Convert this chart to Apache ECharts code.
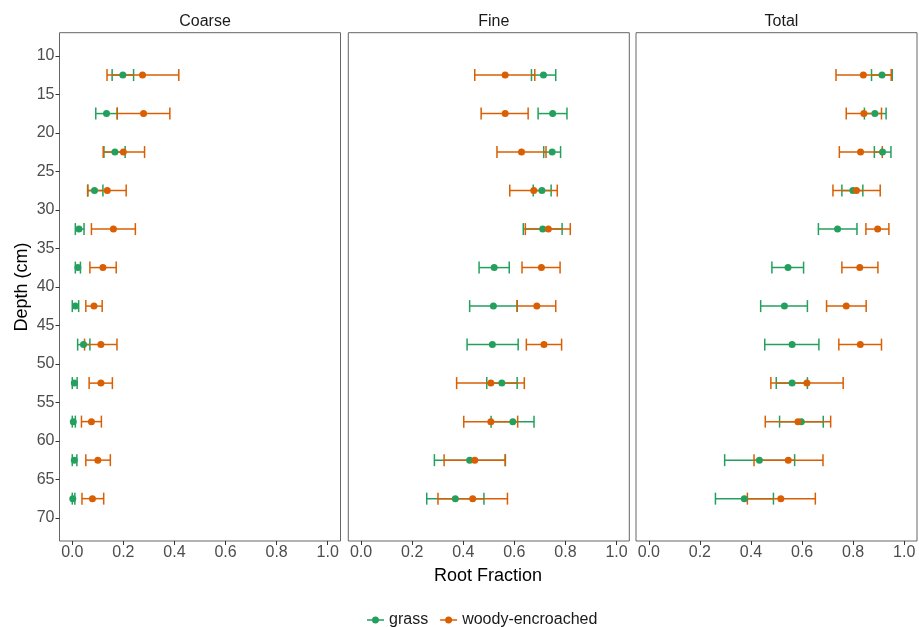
<!DOCTYPE html>
<html>
<head>
<meta charset="utf-8">
<script src="https://cdn.jsdelivr.net/npm/echarts@6/dist/echarts.min.js"></script>
<style>html,body{margin:0;padding:0;background:#fff}#c{width:919px;height:627px}</style>
</head>
<body>
<div id="c"></div>
<script>
const panels = ['Coarse', 'Fine', 'Total'];
const groups = ['grass', 'woody-encroached'];
const depths = [12.5, 17.5, 22.5, 27.5, 32.5, 37.5, 42.5, 47.5, 52.5, 57.5, 62.5, 67.5];
const xTicks = [0, 0.2, 0.4, 0.6, 0.8, 1.0];
const yTicks = [10, 15, 20, 25, 30, 35, 40, 45, 50, 55, 60, 65, 70];

// Coarse
const coarseGrass   = [0.198, 0.134, 0.167, 0.087, 0.026, 0.022, 0.012, 0.044, 0.008, 0.004, 0.008, 0.002];
const coarseGrassLo = [0.156, 0.092, 0.124, 0.060, 0.012, 0.012, 0.000, 0.021, 0.000, 0.000, 0.000, 0.000];
const coarseGrassHi = [0.240, 0.176, 0.207, 0.120, 0.046, 0.032, 0.025, 0.069, 0.019, 0.012, 0.018, 0.010];
const coarseWoody   = [0.275, 0.279, 0.200, 0.137, 0.161, 0.120, 0.085, 0.112, 0.112, 0.075, 0.100, 0.079];
const coarseWoodyLo = [0.136, 0.176, 0.121, 0.061, 0.075, 0.069, 0.053, 0.048, 0.066, 0.036, 0.053, 0.038];
const coarseWoodyHi = [0.417, 0.382, 0.283, 0.211, 0.247, 0.172, 0.117, 0.175, 0.157, 0.114, 0.149, 0.123];
// Fine
const fineGrass   = [0.714, 0.750, 0.748, 0.708, 0.711, 0.521, 0.518, 0.514, 0.551, 0.594, 0.425, 0.369];
const fineGrassLo = [0.667, 0.693, 0.715, 0.674, 0.635, 0.462, 0.425, 0.415, 0.492, 0.509, 0.287, 0.257];
const fineGrassHi = [0.762, 0.806, 0.781, 0.744, 0.787, 0.580, 0.611, 0.615, 0.611, 0.677, 0.565, 0.481];
const fineWoody   = [0.564, 0.564, 0.628, 0.676, 0.733, 0.706, 0.688, 0.716, 0.508, 0.508, 0.445, 0.437];
const fineWoodyLo = [0.445, 0.470, 0.532, 0.582, 0.643, 0.630, 0.611, 0.647, 0.374, 0.402, 0.325, 0.301];
const fineWoodyHi = [0.680, 0.654, 0.724, 0.768, 0.819, 0.779, 0.762, 0.785, 0.639, 0.613, 0.564, 0.573];
// Total
const totalGrass   = [0.913, 0.885, 0.915, 0.799, 0.739, 0.545, 0.531, 0.561, 0.561, 0.597, 0.433, 0.374];
const totalGrassLo = [0.872, 0.844, 0.883, 0.756, 0.664, 0.482, 0.438, 0.454, 0.499, 0.512, 0.297, 0.261];
const totalGrassHi = [0.953, 0.929, 0.948, 0.838, 0.815, 0.606, 0.621, 0.666, 0.621, 0.683, 0.571, 0.488];
const totalWoody   = [0.840, 0.842, 0.829, 0.813, 0.896, 0.826, 0.773, 0.828, 0.619, 0.584, 0.546, 0.517];
const totalWoodyLo = [0.733, 0.773, 0.746, 0.721, 0.850, 0.756, 0.696, 0.744, 0.478, 0.456, 0.412, 0.386];
const totalWoodyHi = [0.949, 0.911, 0.914, 0.906, 0.940, 0.897, 0.851, 0.911, 0.761, 0.712, 0.682, 0.652];

const panelData = [
  [[coarseGrass, coarseGrassLo, coarseGrassHi], [coarseWoody, coarseWoodyLo, coarseWoodyHi]],
  [[fineGrass, fineGrassLo, fineGrassHi], [fineWoody, fineWoodyLo, fineWoodyHi]],
  [[totalGrass, totalGrassLo, totalGrassHi], [totalWoody, totalWoodyLo, totalWoodyHi]]
];
const colors = ['#24A05E', '#D95F02'];
const FONT = '"Liberation Sans", Arial, Helvetica, sans-serif';

const gridLefts = [59.5, 348.3, 636];
const grids = [], xAxes = [], yAxes = [], titles = [], series = [];

panels.forEach((p, i) => {
  grids.push({left: gridLefts[i], top: 32.7, width: 281, height: 508.3, show: true,
    borderColor: '#666', borderWidth: 1, backgroundColor: '#fff', containLabel: false});
  titles.push({text: p, left: gridLefts[i] + 140.5, top: 9, textAlign: 'center',
    textStyle: {fontFamily: FONT, fontSize: 16, fontWeight: 'normal', color: '#1a1a1a'}});
  xAxes.push({type: 'value', gridIndex: i, min: -0.05, max: 1.05,
    axisLine: {show: false, onZero: false}, splitLine: {show: false},
    axisTick: {show: true, inside: false, customValues: xTicks, length: 4, lineStyle: {color: '#333'}},
    axisLabel: {customValues: xTicks, formatter: v => v.toFixed(1), color: '#4D4D4D',
      fontFamily: FONT, fontSize: 16, margin: 4}
  });
  yAxes.push({type: 'value', gridIndex: i, inverse: true, min: 7, max: 73,
    axisLine: {show: false, onZero: false}, splitLine: {show: false},
    axisTick: {show: i === 0, inside: false, customValues: yTicks, length: 4, lineStyle: {color: '#333'}},
    axisLabel: {show: i === 0, customValues: yTicks, color: '#4D4D4D', fontFamily: FONT, fontSize: 16, margin: 5}
  });
  groups.forEach((g, k) => {
    const [mean, lo, hi] = panelData[i][k];
    const color = colors[k];
    series.push({
      type: 'scatter', name: g, xAxisIndex: i, yAxisIndex: i,
      data: depths.map((d, j) => [mean[j], d]),
      symbol: 'circle', symbolSize: 7, itemStyle: {color: color, opacity: 1}, z: 4 + k,
      emphasis: {disabled: true}
    });
    series.push({
      type: 'custom', name: g, xAxisIndex: i, yAxisIndex: i,
      data: depths.map((d, j) => [lo[j], hi[j], d]),
      encode: {x: [0, 1], y: 2},
      itemStyle: {color: color}, z: 2,
      renderItem: function (params, api) {
        const y = api.value(2);
        const a = api.coord([api.value(0), y]);
        const b = api.coord([api.value(1), y]);
        const h = 6;
        const st = {stroke: color, lineWidth: 1.5, fill: null};
        return {type: 'group', children: [
          {type: 'line', shape: {x1: a[0], y1: a[1], x2: b[0], y2: b[1]}, style: st},
          {type: 'line', shape: {x1: a[0], y1: a[1] - h, x2: a[0], y2: a[1] + h}, style: st},
          {type: 'line', shape: {x1: b[0], y1: b[1] - h, x2: b[0], y2: b[1] + h}, style: st}
        ]};
      }
    });
  });
});

const legendIcon = 'path://M0,3.3 L17,3.3 L17,4.7 L0,4.7 Z M8.5,0.5 A3.5,3.5 0 1 1 8.49,0.5 Z';

const chart = echarts.init(document.getElementById('c'), null, {renderer: 'canvas'});
chart.setOption({
  animation: false,
  backgroundColor: '#fff',
  title: titles,
  grid: grids,
  xAxis: xAxes,
  yAxis: yAxes,
  graphic: [
    {type: 'text', x: 488, y: 576, style: {text: 'Root Fraction', x: 0, y: 0, align: 'center', verticalAlign: 'middle',
      font: '18px "Liberation Sans", Arial, sans-serif', fill: '#000'}},
    {type: 'text', x: 22, y: 287, rotation: Math.PI / 2, style: {text: 'Depth (cm)', x: 0, y: 0, align: 'center', verticalAlign: 'middle',
      font: '18px "Liberation Sans", Arial, sans-serif', fill: '#000'}}
  ],
  legend: {
    left: 362, top: 607, itemWidth: 17, itemHeight: 8, itemGap: 12,
    textStyle: {fontFamily: FONT, fontSize: 16, color: '#1a1a1a'},
    data: groups.map((g, k) => ({name: g, icon: legendIcon, itemStyle: {color: colors[k]}}))
  },
  series: series
});
</script>
</body>
</html>
